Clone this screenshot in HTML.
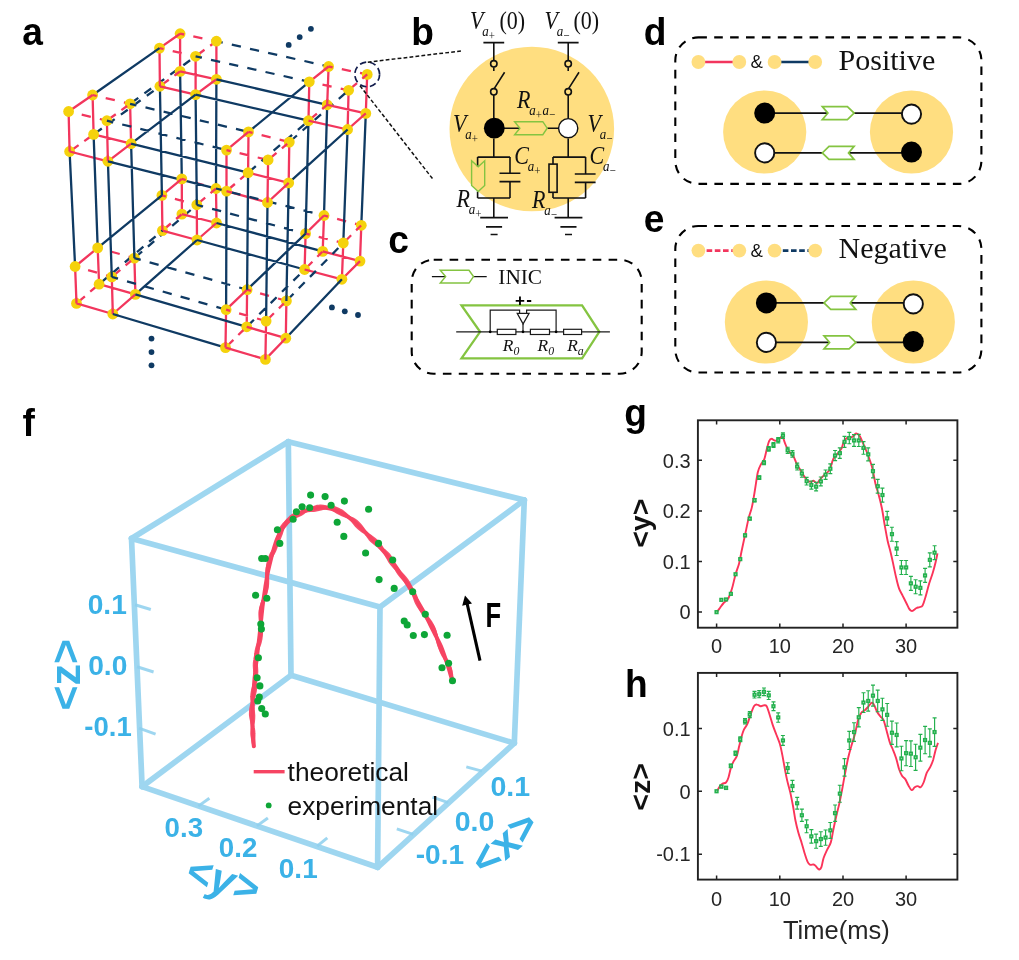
<!DOCTYPE html>
<html><head><meta charset="utf-8"><title>figure</title>
<style>
html,body{margin:0;padding:0;background:#fff;}
body{width:1019px;height:960px;overflow:hidden;font-family:"Liberation Sans",sans-serif;}
svg{display:block;position:absolute;left:0;top:0;will-change:transform;}
text{font-family:"Liberation Sans",sans-serif;}
.ser{font-family:"Liberation Serif",serif;}
</style></head><body>
<svg width="1019" height="960" viewBox="0 0 1019 960">
<rect width="1019" height="960" fill="#fff"/>
<!-- a -->
<g stroke-width="2.3" fill="none">
<path stroke="#f2365d" d="M68.6 111.5L72.7 112.5 M81.7 114.7L90.8 116.8 M99.8 119.0L106.9 120.7 M68.6 111.5L92.6 95.0 M68.6 111.5L69.6 151.5 M92.6 95.0L96.7 96.0 M105.7 98.1L114.8 100.2 M123.9 102.3L130.1 103.8 M92.6 95.0L93.6 134.4 M130.1 103.8L131.1 143.7 M110.1 118.3L115.8 114.2 M121.4 110.1L127.1 106.0 M106.9 120.7L107.9 161.3 M69.6 151.5L107.9 161.3 M72.9 149.2L78.6 145.1 M84.3 141.1L90.0 137.0 M93.6 134.4L131.1 143.7 M107.9 161.3L131.1 143.7 M159.5 48.1L163.6 49.0 M172.7 51.1L181.7 53.2 M190.8 55.2L195.6 56.3 M159.5 48.1L180.1 33.7 M159.5 48.1L159.9 86.3 M180.1 33.7L184.2 34.5 M193.3 36.4L202.4 38.3 M211.5 40.2L216.4 41.2 M180.1 33.7L180.1 71.4 M216.4 41.2L216.4 79.3 M198.8 54.0L204.5 49.8 M210.2 45.7L215.8 41.6 M195.6 56.3L195.6 94.6 M159.9 86.3L195.6 94.6 M163.1 83.9L168.8 79.8 M174.4 75.6L180.0 71.5 M180.1 71.4L216.4 79.3 M195.6 94.6L216.4 79.3 M309.3 81.8L313.4 82.7 M322.5 84.7L331.6 86.6 M340.7 88.6L348.6 90.3 M309.3 81.8L328.6 66.5 M309.3 81.8L308.5 120.7 M328.6 66.5L332.7 67.3 M341.8 69.2L350.9 71.1 M360.0 72.9L367.2 74.4 M328.6 66.5L327.2 104.8 M367.2 74.4L365.8 113.4 M351.6 87.7L357.0 83.2 M362.3 78.6L367.2 74.4 M348.6 90.3L347.6 129.5 M308.5 120.7L347.6 129.5 M311.5 118.1L316.9 113.6 M322.2 109.0L327.2 104.8 M327.2 104.8L365.8 113.4 M347.6 129.5L365.8 113.4 M226.5 150.1L230.6 151.1 M239.6 153.2L248.7 155.3 M257.7 157.5L266.8 159.6 M226.5 150.1L248.5 131.9 M226.5 150.1L226.5 191.1 M248.5 131.9L252.6 132.9 M261.6 135.2L270.6 137.4 M279.6 139.7L288.7 141.9 M248.5 131.9L248.1 172.7 M289.3 142.1L288.7 182.9 M271.2 157.3L276.5 152.8 M281.9 148.3L287.2 143.8 M268.1 159.9L267.5 202.5 M226.5 191.1L267.5 202.5 M229.5 188.5L234.9 184.0 M240.2 179.4L245.5 174.9 M248.1 172.7L288.7 182.9 M267.5 202.5L288.7 182.9 M75.1 266.5L79.1 267.6 M88.1 270.2L97.0 272.7 M106.0 275.3L111.8 276.9 M75.1 266.5L97.7 247.9 M75.1 266.5L76.5 303.4 M97.7 247.9L101.7 249.0 M110.7 251.5L119.7 254.0 M128.6 256.5L134.4 258.1 M97.7 247.9L99.1 284.2 M134.4 258.1L135.4 294.4 M114.9 274.3L120.3 269.9 M125.6 265.4L131.0 260.9 M111.8 276.9L112.8 314.0 M76.5 303.4L112.8 314.0 M79.5 300.8L84.9 296.3 M90.2 291.7L95.6 287.2 M99.1 284.2L135.4 294.4 M112.8 314.0L135.4 294.4 M161.9 195.4L166.0 196.5 M174.9 198.9L183.9 201.3 M192.9 203.7L196.8 204.8 M161.9 195.4L181.8 178.9 M161.9 195.4L162.4 230.6 M181.8 178.9L185.8 180.0 M194.8 182.5L203.8 185.1 M212.7 187.6L216.0 188.5 M181.8 178.9L181.9 214.1 M216.0 188.5L216.5 223.0 M199.8 202.2L205.2 197.7 M210.5 193.2L215.9 188.6 M196.8 204.8L197.0 240.0 M162.4 230.6L197.0 240.0 M165.5 228.0L170.8 223.5 M176.1 219.0L181.5 214.5 M181.9 214.1L216.5 223.0 M197.0 240.0L216.5 223.0 M305.6 233.6L309.7 234.6 M318.7 236.9L327.7 239.1 M336.7 241.4L343.3 243.0 M305.6 233.6L324.0 215.5 M305.6 233.6L304.6 269.5 M324.0 215.5L328.1 216.6 M337.1 218.9L346.1 221.3 M355.0 223.7L361.3 225.3 M324.0 215.5L322.7 251.4 M361.3 225.3L360.0 261.1 M346.2 240.2L351.1 235.3 M356.1 230.4L361.1 225.5 M343.3 243.0L341.9 279.3 M304.6 269.5L341.9 279.3 M307.4 266.7L312.4 261.7 M317.3 256.8L322.3 251.8 M322.7 251.4L360.0 261.1 M341.9 279.3L360.0 261.1 M226.1 309.7L230.1 310.9 M239.1 313.4L248.0 315.9 M257.0 318.5L265.9 321.0 M226.1 309.7L247.1 289.7 M226.1 309.7L225.5 347.6 M247.1 289.7L251.1 290.9 M260.1 293.4L269.0 295.9 M278.0 298.5L286.4 300.9 M247.1 289.7L246.7 326.8 M286.4 300.9L285.8 338.2 M268.9 318.3L273.9 313.3 M278.9 308.4L283.8 303.5 M266.1 321.1L265.4 359.4 M225.5 347.6L265.4 359.4 M228.4 344.8L233.4 339.9 M238.3 335.0L243.3 330.1 M246.7 326.8L285.8 338.2 M265.4 359.4L285.8 338.2"/>
<path stroke="#0f3a63" d="M92.6 95.0L159.5 48.1 M130.1 103.8L136.4 105.3 M145.5 107.4L154.5 109.6 M163.6 111.7L172.6 113.9 M181.7 116.0L190.7 118.2 M199.8 120.3L208.8 122.5 M217.9 124.6L226.9 126.8 M236.0 128.9L245.0 131.1 M131.5 102.8L138.3 97.9 M144.4 93.4L151.2 88.5 M157.4 84.0L164.2 79.1 M170.3 74.6L177.1 69.7 M183.3 65.2L190.1 60.3 M106.9 120.7L113.2 122.3 M122.2 124.5L131.3 126.7 M140.3 128.9L149.3 131.1 M158.4 133.4L167.4 135.6 M176.4 137.8L185.5 140.0 M194.5 142.2L203.5 144.5 M212.6 146.7L221.6 148.9 M69.6 151.5L75.1 266.5 M95.0 133.4L101.8 128.5 M107.9 124.0L114.7 119.1 M120.9 114.6L127.7 109.7 M133.8 105.2L140.6 100.3 M146.8 95.8L153.6 90.9 M159.7 86.4L159.9 86.3 M93.6 134.4L97.7 247.9 M131.1 143.7L248.1 172.7 M131.1 143.7L195.6 94.6 M131.1 143.7L134.4 258.1 M107.9 161.3L226.5 191.1 M107.9 161.3L111.8 276.9 M216.4 41.2L222.7 42.6 M231.8 44.7L240.9 46.7 M250.0 48.8L259.0 50.8 M268.1 52.9L277.2 54.9 M286.2 56.9L295.3 59.0 M304.4 61.0L313.5 63.1 M322.5 65.1L328.6 66.5 M195.6 56.3L201.9 57.7 M211.0 59.8L220.1 61.8 M229.2 63.8L238.2 65.9 M247.3 67.9L256.4 69.9 M265.5 72.0L274.5 74.0 M283.6 76.0L292.7 78.1 M301.8 80.1L309.3 81.8 M159.9 86.3L161.9 195.4 M180.1 71.4L181.8 178.9 M216.4 79.3L327.2 104.8 M216.4 79.3L216.0 188.5 M195.6 94.6L308.5 120.7 M195.6 94.6L196.8 204.8 M308.5 120.7L305.6 233.6 M327.2 104.8L324.0 215.5 M365.8 113.4L361.3 225.3 M347.6 129.5L343.3 243.0 M248.5 131.9L309.3 81.8 M290.6 141.0L296.9 135.5 M302.6 130.5L309.0 124.9 M314.7 119.9L321.0 114.4 M326.7 109.4L333.1 103.9 M338.8 98.9L345.1 93.4 M226.5 191.1L226.1 309.7 M249.4 171.6L255.8 166.1 M261.5 161.2L267.9 155.7 M273.6 150.7L280.0 145.2 M285.8 140.3L292.1 134.8 M297.9 129.8L304.3 124.4 M248.1 172.7L247.1 289.7 M288.7 182.9L347.6 129.5 M288.7 182.9L286.4 300.9 M267.5 202.5L266.1 321.1 M97.7 247.9L161.9 195.4 M134.4 258.1L140.7 259.9 M149.6 262.4L158.6 264.9 M167.5 267.4L176.5 269.9 M185.4 272.4L194.4 274.9 M203.3 277.4L212.3 279.9 M221.3 282.5L230.2 285.0 M239.2 287.5L247.1 289.7 M135.7 257.0L142.1 251.5 M147.9 246.6L154.2 241.1 M160.0 236.2L166.4 230.8 M172.2 225.8L178.6 220.4 M184.4 215.4L190.7 210.0 M196.5 205.0L196.8 204.8 M111.8 276.9L118.0 278.7 M127.0 281.3L135.9 283.8 M144.9 286.4L153.8 289.0 M162.7 291.5L171.7 294.1 M180.6 296.6L189.6 299.2 M198.5 301.8L207.4 304.3 M216.4 306.9L225.3 309.5 M100.4 283.1L106.8 277.7 M112.6 272.8L119.0 267.3 M124.8 262.4L131.2 257.0 M137.0 252.1L143.4 246.7 M149.2 241.7L155.6 236.3 M161.4 231.4L162.4 230.6 M135.4 294.4L246.7 326.8 M135.4 294.4L197.0 240.0 M112.8 314.0L225.5 347.6 M216.0 188.5L222.3 190.1 M231.3 192.3L240.4 194.6 M249.4 196.8L258.4 199.1 M267.4 201.4L276.4 203.6 M285.5 205.9L294.5 208.1 M303.5 210.4L312.5 212.6 M321.6 214.9L324.0 215.5 M196.8 204.8L203.1 206.5 M212.1 208.8L221.1 211.2 M230.1 213.6L239.0 216.0 M248.0 218.4L257.0 220.7 M266.0 223.1L275.0 225.5 M284.0 227.9L293.0 230.3 M302.0 232.6L305.6 233.6 M216.5 223.0L322.7 251.4 M197.0 240.0L304.6 269.5 M247.1 289.7L305.6 233.6 M287.6 299.7L293.5 293.7 M298.8 288.3L304.7 282.3 M310.0 276.9L315.9 270.9 M321.2 265.5L327.1 259.5 M332.5 254.0L338.3 248.0 M247.9 325.6L253.9 319.7 M259.3 314.3L265.3 308.4 M270.7 303.1L276.6 297.2 M282.0 291.8L288.0 285.9 M293.4 280.6L299.4 274.7 M285.8 338.2L341.9 279.3"/>
</g>
<g fill="#f5d20c">
<circle cx="68.6" cy="111.5" r="5.4"/>
<circle cx="92.6" cy="95.0" r="5.4"/>
<circle cx="130.1" cy="103.8" r="5.4"/>
<circle cx="106.9" cy="120.7" r="5.4"/>
<circle cx="69.6" cy="151.5" r="5.4"/>
<circle cx="93.6" cy="134.4" r="5.4"/>
<circle cx="131.1" cy="143.7" r="5.4"/>
<circle cx="107.9" cy="161.3" r="5.4"/>
<circle cx="159.5" cy="48.1" r="5.4"/>
<circle cx="180.1" cy="33.7" r="5.4"/>
<circle cx="216.4" cy="41.2" r="5.4"/>
<circle cx="195.6" cy="56.3" r="5.4"/>
<circle cx="159.9" cy="86.3" r="5.4"/>
<circle cx="180.1" cy="71.4" r="5.4"/>
<circle cx="216.4" cy="79.3" r="5.4"/>
<circle cx="195.6" cy="94.6" r="5.4"/>
<circle cx="309.3" cy="81.8" r="5.4"/>
<circle cx="328.6" cy="66.5" r="5.4"/>
<circle cx="367.2" cy="74.4" r="5.4"/>
<circle cx="348.6" cy="90.3" r="5.4"/>
<circle cx="308.5" cy="120.7" r="5.4"/>
<circle cx="327.2" cy="104.8" r="5.4"/>
<circle cx="365.8" cy="113.4" r="5.4"/>
<circle cx="347.6" cy="129.5" r="5.4"/>
<circle cx="226.5" cy="150.1" r="5.4"/>
<circle cx="248.5" cy="131.9" r="5.4"/>
<circle cx="289.3" cy="142.1" r="5.4"/>
<circle cx="268.1" cy="159.9" r="5.4"/>
<circle cx="226.5" cy="191.1" r="5.4"/>
<circle cx="248.1" cy="172.7" r="5.4"/>
<circle cx="288.7" cy="182.9" r="5.4"/>
<circle cx="267.5" cy="202.5" r="5.4"/>
<circle cx="75.1" cy="266.5" r="5.4"/>
<circle cx="97.7" cy="247.9" r="5.4"/>
<circle cx="134.4" cy="258.1" r="5.4"/>
<circle cx="111.8" cy="276.9" r="5.4"/>
<circle cx="76.5" cy="303.4" r="5.4"/>
<circle cx="99.1" cy="284.2" r="5.4"/>
<circle cx="135.4" cy="294.4" r="5.4"/>
<circle cx="112.8" cy="314.0" r="5.4"/>
<circle cx="161.9" cy="195.4" r="5.4"/>
<circle cx="181.8" cy="178.9" r="5.4"/>
<circle cx="216.0" cy="188.5" r="5.4"/>
<circle cx="196.8" cy="204.8" r="5.4"/>
<circle cx="162.4" cy="230.6" r="5.4"/>
<circle cx="181.9" cy="214.1" r="5.4"/>
<circle cx="216.5" cy="223.0" r="5.4"/>
<circle cx="197.0" cy="240.0" r="5.4"/>
<circle cx="305.6" cy="233.6" r="5.4"/>
<circle cx="324.0" cy="215.5" r="5.4"/>
<circle cx="361.3" cy="225.3" r="5.4"/>
<circle cx="343.3" cy="243.0" r="5.4"/>
<circle cx="304.6" cy="269.5" r="5.4"/>
<circle cx="322.7" cy="251.4" r="5.4"/>
<circle cx="360.0" cy="261.1" r="5.4"/>
<circle cx="341.9" cy="279.3" r="5.4"/>
<circle cx="226.1" cy="309.7" r="5.4"/>
<circle cx="247.1" cy="289.7" r="5.4"/>
<circle cx="286.4" cy="300.9" r="5.4"/>
<circle cx="266.1" cy="321.1" r="5.4"/>
<circle cx="225.5" cy="347.6" r="5.4"/>
<circle cx="246.7" cy="326.8" r="5.4"/>
<circle cx="285.8" cy="338.2" r="5.4"/>
<circle cx="265.4" cy="359.4" r="5.4"/>
</g>
<g stroke-width="2.3" fill="none">
<path stroke="#f2365d" d="M87.9 98.2L92.6 95.0 M69.5 145.8L69.6 151.5 M92.6 95.0L96.7 96.0 M125.5 107.2L127.1 106.0 M107.8 155.6L107.9 161.3 M69.6 151.5L75.1 152.9 M126.6 147.1L131.1 143.7 M159.5 48.1L163.6 49.0 M175.4 37.0L180.1 33.7 M159.8 80.6L159.9 86.3 M180.1 33.7L184.2 34.5 M159.9 86.3L165.5 87.6 M175.5 74.8L180.0 71.5 M180.1 71.4L185.7 72.6 M211.8 82.7L216.4 79.3 M324.1 70.0L328.6 66.5 M328.6 66.5L332.7 67.3 M327.4 99.1L327.2 104.8 M362.9 78.1L367.2 74.4 M308.5 120.7L314.1 122.0 M322.9 108.5L327.2 104.8 M327.2 104.8L332.8 106.0 M361.5 117.2L365.8 113.4 M226.5 150.1L230.6 151.1 M244.1 135.5L248.5 131.9 M248.5 131.9L252.6 132.9 M284.9 145.8L287.2 143.8 M267.6 196.8L267.5 202.5 M226.5 191.1L232.0 192.6 M284.5 186.8L288.7 182.9 M76.3 297.7L76.5 303.4 M130.0 261.7L131.0 260.9 M112.6 308.3L112.8 314.0 M76.5 303.4L82.0 305.0 M131.1 298.1L135.4 294.4 M161.9 195.4L166.0 196.5 M177.4 182.5L181.8 178.9 M162.3 224.9L162.4 230.6 M181.8 178.9L185.8 180.0 M211.7 192.2L215.9 188.6 M162.4 230.6L167.9 232.1 M177.5 217.8L181.5 214.5 M181.9 214.1L187.4 215.5 M212.2 226.7L216.5 223.0 M305.6 233.6L309.7 234.6 M319.9 219.5L324.0 215.5 M324.0 215.5L328.1 216.6 M357.2 229.3L361.1 225.5 M304.6 269.5L310.1 270.9 M318.7 255.4L322.3 251.8 M322.7 251.4L328.2 252.8 M356.0 265.1L360.0 261.1 M226.1 309.7L230.1 310.9 M243.0 293.6L247.1 289.7 M225.6 341.9L225.5 347.6 M247.1 289.7L251.1 290.9 M282.4 304.9L283.8 303.5 M265.5 353.7L265.4 359.4 M225.5 347.6L231.0 349.2 M242.6 330.8L243.3 330.1 M246.7 326.8L252.2 328.4 M281.8 342.3L285.8 338.2"/>
<path stroke="#0f3a63" d="M154.8 51.4L159.5 48.1 M130.1 103.8L135.6 105.1 M106.9 120.7L112.4 122.1 M159.7 86.4L159.9 86.3 M131.1 143.7L136.6 145.1 M191.1 98.1L195.6 94.6 M134.2 252.4L134.4 258.1 M107.9 161.3L113.4 162.7 M111.6 271.2L111.8 276.9 M195.6 56.3L201.2 57.5 M161.8 189.7L161.9 195.4 M216.4 79.3L222.0 80.6 M195.6 94.6L201.2 95.9 M196.7 199.1L196.8 204.8 M305.7 227.9L305.6 233.6 M344.3 94.0L345.1 93.4 M304.2 124.4L304.3 124.4 M247.1 284.0L247.1 289.7 M343.4 133.3L347.6 129.5 M286.5 295.2L286.4 300.9 M157.5 199.0L161.9 195.4 M134.4 258.1L139.9 259.6 M196.5 205.0L196.8 204.8 M111.8 276.9L117.3 278.5 M161.4 231.4L162.4 230.6 M135.4 294.4L140.9 296.0 M192.7 243.8L197.0 240.0 M112.8 314.0L118.3 315.6 M216.0 188.5L221.5 189.9 M196.8 204.8L202.3 206.3 M216.5 223.0L222.0 224.5 M197.0 240.0L202.5 241.5 M301.5 237.5L305.6 233.6 M338.0 283.4L341.9 279.3"/>
</g>
<g fill="#0f3a63">
<circle cx="288.7" cy="44.9" r="2.9"/>
<circle cx="299.7" cy="37.1" r="2.9"/>
<circle cx="310.9" cy="28.8" r="2.9"/>
<circle cx="151.5" cy="338.6" r="2.9"/>
<circle cx="151.5" cy="352.1" r="2.9"/>
<circle cx="151.5" cy="365.3" r="2.9"/>
<circle cx="331.9" cy="307.4" r="2.9"/>
<circle cx="344.8" cy="311.3" r="2.9"/>
<circle cx="358.0" cy="315.0" r="2.9"/>
</g>
<circle cx="367.2" cy="74.4" r="12.4" fill="none" stroke="#121c4d" stroke-width="1.7" stroke-dasharray="6.5 3.6"/>
<!-- b -->
<circle cx="531.8" cy="129" r="82.3" fill="#ffde80"/>
<path d="M367.8 62.2L462.5 50.8 M360 85.7L433.4 179.8" stroke="#111" stroke-width="1.5" stroke-dasharray="3.8 2.2" fill="none"/>
<g stroke="#111" stroke-width="1.6" fill="none" stroke-linecap="butt">
<path d="M483.4 42.6H504.2 M493.8 42.6V60.4 M493.8 67.2V71 M494.2 88.6L504.6 72.2 M493.8 95.1V118.5 M493.8 138.4V157.1 M493.8 198V217.6"/>
<circle cx="493.8" cy="63.8" r="3.2" fill="none"/>
<circle cx="493.8" cy="91.8" r="3.2" fill="none"/>
<path d="M480.2 217.6H508.0 M486.0 226.9H502.1 M490.6 234.5H497.6"/>
<path d="M557.8 42.6H578.6 M568.2 42.6V60.4 M568.2 67.2V71 M568.6 88.6L579.0 72.2 M568.2 95.1V118.5 M568.2 138.4V157.1 M568.2 198V217.6"/>
<circle cx="568.2" cy="63.8" r="3.2" fill="none"/>
<circle cx="568.2" cy="91.8" r="3.2" fill="none"/>
<path d="M554.6 217.6H582.4 M560.4 226.9H576.5 M565.0 234.5H572.0"/>
<path d="M477.6 157.1H510 M477.6 157.1V166.5 M477.6 191.5V198 M477.6 198H510 M510 157.1V173.3 M510 181.6V198 M499.5 173.3H520.4 M499.5 181.6H520.4"/>
<path d="M553 157.1H585.6 M553 157.1V198 M553 198H585.6 M585.6 157.1V174 M585.6 182.4V198 M574.8 174H595.6 M574.8 182.4H595.6"/>
<rect x="549" y="164.1" width="8.1" height="28.2" fill="#ffde80"/>
<path d="M504 128.2H520 M547.2 128.2H559"/>
</g>
<circle cx="494.3" cy="128.2" r="10.4" fill="#000"/>
<circle cx="568.2" cy="128.2" r="9.6" fill="#fff" stroke="#111" stroke-width="1.4"/>
<g stroke="#84c441" stroke-width="1.4" fill="none" stroke-linejoin="miter">
<path d="M514.6 121.7H542.8L547.2 128.2L542.8 134.7H514.6L519.9 128.2Z"/>
<path d="M471.6 160.8L478.2 166.8L484.7 160.8V185.5L478.2 191.5L471.6 185.5Z"/>
</g>
<g fill="#111">
<text transform="translate(470.0,28.8) scale(1,1.15)" class="ser" font-style="italic" font-size="22" text-anchor="start">V<tspan dy="6.2" dx="-1.2" font-size="13.0">a</tspan><tspan dy="3.4" font-size="11.0" font-style="normal">+</tspan></text>
<text transform="translate(499.5,28.8) scale(1,1.15)" class="ser" font-size="22">(0)</text>
<text transform="translate(544.5,28.8) scale(1,1.15)" class="ser" font-style="italic" font-size="22" text-anchor="start">V<tspan dy="6.2" dx="-1.2" font-size="13.0">a</tspan><tspan dy="3.4" font-size="11.0" font-style="normal">−</tspan></text>
<text transform="translate(573.5,28.8) scale(1,1.15)" class="ser" font-size="22">(0)</text>
<text transform="translate(517.0,108.0) scale(1,1.15)" class="ser" font-style="italic" font-size="22" text-anchor="start">R<tspan dy="6.2" dx="-1.2" font-size="13.0">a</tspan><tspan dy="3.4" font-size="11.0" font-style="normal">+</tspan><tspan dy="-3.4" dx="0.5" font-size="13.0">a</tspan><tspan dy="3.4" font-size="11.0" font-style="normal">−</tspan></text>
<text transform="translate(453.0,131.6) scale(1,1.15)" class="ser" font-style="italic" font-size="22" text-anchor="start">V<tspan dy="6.2" dx="-1.2" font-size="13.0">a</tspan><tspan dy="3.4" font-size="11.0" font-style="normal">+</tspan></text>
<text transform="translate(587.5,131.6) scale(1,1.15)" class="ser" font-style="italic" font-size="22" text-anchor="start">V<tspan dy="6.2" dx="-1.2" font-size="13.0">a</tspan><tspan dy="3.4" font-size="11.0" font-style="normal">−</tspan></text>
<text transform="translate(514.3,164.0) scale(1,1.15)" class="ser" font-style="italic" font-size="22" text-anchor="start">C<tspan dy="6.2" dx="-1.2" font-size="13.0">a</tspan><tspan dy="3.4" font-size="11.0" font-style="normal">+</tspan></text>
<text transform="translate(589.5,164.0) scale(1,1.15)" class="ser" font-style="italic" font-size="22" text-anchor="start">C<tspan dy="6.2" dx="-1.2" font-size="13.0">a</tspan><tspan dy="3.4" font-size="11.0" font-style="normal">−</tspan></text>
<text transform="translate(456.5,207.0) scale(1,1.15)" class="ser" font-style="italic" font-size="22" text-anchor="start">R<tspan dy="6.2" dx="-1.2" font-size="13.0">a</tspan><tspan dy="3.4" font-size="11.0" font-style="normal">+</tspan></text>
<text transform="translate(532.0,208.3) scale(1,1.15)" class="ser" font-style="italic" font-size="22" text-anchor="start">R<tspan dy="6.2" dx="-1.2" font-size="13.0">a</tspan><tspan dy="3.4" font-size="11.0" font-style="normal">−</tspan></text>
</g>
<!-- c -->
<rect x="411.7" y="259.7" width="230" height="114" rx="22" ry="22" fill="none" stroke="#000" stroke-width="2.1" stroke-dasharray="8.6 7.3"/>
<path d="M431.9 276.6H445.6 M473.5 276.6H486.7" stroke="#111" stroke-width="1.3" fill="none"/>
<path d="M440.3 270.3H469L473.5 276.6L469 283.1H440.3L445.6 276.6Z" stroke="#84c441" stroke-width="1.5" fill="none"/>
<text x="498.3" y="283.6" class="ser" font-size="21.3" fill="#111">INIC</text>
<path d="M461.5 305.3H582.1L599.3 331.8L582.1 358.3H461.5L480.1 331.8Z" stroke="#84c441" stroke-width="2.3" fill="none" stroke-linejoin="miter"/>
<g stroke="#1a1a1a" stroke-width="1.2" fill="none">
<path d="M456.2 331.8H609.9"/>
<path d="M490.2 331.8V310.1H519.6V313.3 M556.1 331.8V310.1H526.6V313.3 M523 323.9V331.8"/>
<path d="M517.2 313.3H529.1L523.1 323.9Z"/>
<rect x="497.3" y="329.3" width="18.6" height="5.2" fill="#fff"/>
<rect x="530.4" y="329.3" width="19.1" height="5.2" fill="#fff"/>
<rect x="563.6" y="329.3" width="18.0" height="5.2" fill="#fff"/>
</g>
<circle cx="490.2" cy="331.8" r="1.4" fill="#000"/>
<circle cx="523.0" cy="331.8" r="1.4" fill="#000"/>
<circle cx="556.1" cy="331.8" r="1.4" fill="#000"/>
<text x="514.9" y="305.8" font-size="17" font-weight="bold" fill="#000">+</text>
<text x="526.3" y="305.2" font-size="17" font-weight="bold" fill="#000">-</text>
<text x="502.8" y="351.2" class="ser" font-style="italic" font-size="17.4" fill="#111">R<tspan dy="4" font-size="11.8">0</tspan></text>
<text x="537.6" y="351.2" class="ser" font-style="italic" font-size="17.4" fill="#111">R<tspan dy="4" font-size="11.8">0</tspan></text>
<text x="567.2" y="351.2" class="ser" font-style="italic" font-size="17.4" fill="#111">R<tspan dy="4" font-size="11.8">a</tspan></text>
<!-- de -->
<rect x="675.3" y="37.4" width="306.1" height="146.5" rx="23" ry="23" fill="none" stroke="#000" stroke-width="2.1" stroke-dasharray="8.6 7.3"/>
<path d="M698.4 62.0H739.3" stroke="#f2365d" stroke-width="2.6"/>
<path d="M774.6 62.0H815.2" stroke="#0f3a63" stroke-width="2.6"/>
<circle cx="698.4" cy="62.0" r="6.9" fill="#ffde80"/>
<circle cx="739.3" cy="62.0" r="6.9" fill="#ffde80"/>
<circle cx="774.6" cy="62.0" r="6.9" fill="#ffde80"/>
<circle cx="815.2" cy="62.0" r="6.9" fill="#ffde80"/>
<text x="756.6" y="68.2" font-size="18.5" text-anchor="middle" fill="#111">&amp;</text>
<text x="838.6" y="70.2" class="ser" font-size="30" fill="#111">Positive</text>
<circle cx="764.7" cy="132.0" r="41.6" fill="#ffde80"/>
<circle cx="911.5" cy="132.0" r="41.6" fill="#ffde80"/>
<path d="M764.7 113.1H911.5 M764.7 152.9H911.5" stroke="#111" stroke-width="1.8"/>
<circle cx="764.7" cy="113.1" r="10.5" fill="#000"/>
<circle cx="764.7" cy="152.9" r="9.6" fill="#fff" stroke="#111" stroke-width="1.9"/>
<circle cx="911.5" cy="114.1" r="9.6" fill="#fff" stroke="#111" stroke-width="1.9"/>
<circle cx="911.5" cy="152.1" r="10.5" fill="#000"/>
<path d="M822.3 106.6H847.4L854.1 113.1L847.4 119.6H822.3L827.9 113.1Z M854.1 146.4H829.0L822.3 152.9L829.0 159.4H854.1L848.5 152.9Z" fill="#fff" stroke="#84c441" stroke-width="1.7"/>
<rect x="675.3" y="226.0" width="306.1" height="146.5" rx="23" ry="23" fill="none" stroke="#000" stroke-width="2.1" stroke-dasharray="8.6 7.3"/>
<path d="M698.4 250.6H739.3" stroke="#f2365d" stroke-width="2.6" stroke-dasharray="5.6 2.6"/>
<path d="M774.6 250.6H815.2" stroke="#0f3a63" stroke-width="2.6" stroke-dasharray="5.6 2.6"/>
<circle cx="698.4" cy="250.6" r="6.9" fill="#ffde80"/>
<circle cx="739.3" cy="250.6" r="6.9" fill="#ffde80"/>
<circle cx="774.6" cy="250.6" r="6.9" fill="#ffde80"/>
<circle cx="815.2" cy="250.6" r="6.9" fill="#ffde80"/>
<text x="756.6" y="256.8" font-size="18.5" text-anchor="middle" fill="#111">&amp;</text>
<text x="838.6" y="257.8" class="ser" font-size="30" fill="#111">Negative</text>
<circle cx="766.4" cy="322.0" r="41.6" fill="#ffde80"/>
<circle cx="913.3" cy="322.0" r="41.6" fill="#ffde80"/>
<path d="M766.4 302.9H913.3 M766.4 342.4H913.3" stroke="#111" stroke-width="1.8"/>
<circle cx="766.4" cy="302.9" r="10.5" fill="#000"/>
<circle cx="766.4" cy="342.4" r="9.6" fill="#fff" stroke="#111" stroke-width="1.9"/>
<circle cx="913.3" cy="303.9" r="9.6" fill="#fff" stroke="#111" stroke-width="1.9"/>
<circle cx="913.3" cy="341.6" r="10.5" fill="#000"/>
<path d="M855.8 296.4H830.7L824.0 302.9L830.7 309.4H855.8L850.2 302.9Z M824.0 335.9H849.1L855.8 342.4L849.1 348.9H824.0L829.6 342.4Z" fill="#fff" stroke="#84c441" stroke-width="1.7"/>
<!-- f -->
<g stroke="#8fd0ee" stroke-width="5.7" stroke-linecap="round" opacity="0.86" fill="none">
<path d="M288.3 441.7L524.3 500.0"/>
<path d="M524.3 500.0L380.0 607.0"/>
<path d="M380.0 607.0L131.5 538.5"/>
<path d="M131.5 538.5L288.3 441.7"/>
<path d="M131.5 538.5L142.1 786.6"/>
<path d="M380.0 607.0L377.6 867.3"/>
<path d="M524.3 500.0L514.3 743.2"/>
<path d="M288.3 441.7L291.0 675.3"/>
<path d="M142.1 786.6L377.6 867.3"/>
<path d="M377.6 867.3L514.3 743.2"/>
<path d="M514.3 743.2L291.0 675.3"/>
<path d="M291.0 675.3L142.1 786.6"/>
</g>
<g stroke="#8fd0ee" stroke-width="3.0" stroke-linecap="butt" fill="none" opacity="0.86">
<path d="M135.0 604.7L150.8 609.5"/>
<path d="M137.0 666.8L153.6 672.0"/>
<path d="M138.9 728.2L155.6 734.1"/>
<path d="M198.3 806.1L209.4 798.2"/>
<path d="M256.9 825.9L267.9 818.0"/>
<path d="M317.1 846.1L327.3 837.8"/>
<path d="M482.0 771.1L466.3 766.9"/>
<path d="M448.2 802.7L432.5 797.2"/>
<path d="M413.3 834.3L396.8 828.8"/>
</g>
<g fill="#3bb2e7" font-weight="bold" font-size="27">
<text x="87.7" y="613.9" textLength="39.2" lengthAdjust="spacingAndGlyphs">0.1</text>
<text x="88.2" y="674.9" textLength="39.2" lengthAdjust="spacingAndGlyphs">0.0</text>
<text x="84.3" y="736.4" textLength="47.5" lengthAdjust="spacingAndGlyphs">-0.1</text>
<text x="164.6" y="836.5" textLength="38.5" lengthAdjust="spacingAndGlyphs">0.3</text>
<text x="218.8" y="857.1" textLength="38.5" lengthAdjust="spacingAndGlyphs">0.2</text>
<text x="278.8" y="877.9" textLength="38.9" lengthAdjust="spacingAndGlyphs">0.1</text>
<text x="490.4" y="796.0" textLength="39.7" lengthAdjust="spacingAndGlyphs">0.1</text>
<text x="454.7" y="830.9" textLength="39.7" lengthAdjust="spacingAndGlyphs">0.0</text>
<text x="415.7" y="863.9" textLength="48.4" lengthAdjust="spacingAndGlyphs">-0.1</text>
</g>
<g fill="#3bb2e7" font-weight="bold" font-size="43" text-anchor="middle">
<text transform="translate(80.2,674.7) rotate(-90)">&lt;z&gt;</text>
<text transform="translate(218.5,893.5) rotate(17)" font-style="italic">&lt;y&gt;</text>
<text transform="translate(514,853.5) rotate(-41)">&lt;x&gt;</text>
</g>
<path d="M253.8 746.3C253.6 744.3 253.0 738.1 252.7 734.0C252.5 729.9 252.2 725.8 252.2 721.6C252.1 717.5 252.4 713.4 252.6 709.3C252.8 705.2 253.1 701.1 253.3 697.0C253.6 692.9 253.7 688.7 254.0 684.6C254.3 680.5 254.7 676.4 255.2 672.3C255.6 668.2 256.1 664.1 256.6 660.1C257.1 656.0 257.6 651.9 258.0 647.8C258.5 643.7 259.0 639.6 259.5 635.5C259.9 631.4 260.4 627.3 260.8 623.2C261.3 619.1 261.6 615.0 262.1 610.9C262.5 606.8 263.1 602.7 263.6 598.7C264.2 594.6 264.8 590.5 265.4 586.4C266.1 582.3 266.7 578.3 267.5 574.2C268.2 570.2 269.2 566.2 270.2 562.2C271.1 558.2 272.2 554.2 273.4 550.2C274.5 546.3 275.6 542.3 277.2 538.5C278.8 534.7 280.7 530.9 283.1 527.6C285.5 524.4 288.3 521.3 291.5 518.8C294.6 516.2 298.1 513.9 301.8 512.1C305.5 510.4 309.4 509.3 313.4 508.5C317.4 507.8 321.7 507.4 325.7 507.7C329.7 508.1 333.7 509.3 337.5 510.9C341.2 512.4 344.8 514.6 348.2 516.9C351.6 519.2 354.7 521.9 357.7 524.7C360.8 527.4 363.6 530.5 366.5 533.4C369.4 536.3 372.4 539.2 375.2 542.2C378.0 545.1 380.8 548.2 383.5 551.3C386.2 554.4 388.9 557.5 391.4 560.8C394.0 564.0 396.4 567.4 398.7 570.8C401.0 574.2 403.3 577.6 405.5 581.1C407.7 584.6 409.8 588.1 411.9 591.6C414.1 595.2 416.1 598.7 418.2 602.3C420.3 605.9 422.4 609.4 424.4 613.0C426.3 616.6 428.1 620.4 429.9 624.1C431.7 627.8 433.6 631.4 435.4 635.1C437.3 638.8 439.3 642.4 441.0 646.2C442.6 650.0 443.8 653.9 445.2 657.8C446.5 661.7 447.7 665.6 449.0 669.5C450.2 673.5 451.9 679.4 452.5 681.4" stroke="#f64462" stroke-width="3.9" fill="none" stroke-linecap="round"/>
<path d="M253.8 746.3C253.8 745.3 253.8 742.2 253.8 740.1C253.8 738.0 254.0 736.0 253.9 733.9C253.9 731.9 253.7 729.8 253.3 727.8C253.0 725.7 252.1 723.7 251.7 721.7C251.2 719.6 250.7 717.5 250.5 715.4C250.4 713.3 250.5 711.2 250.7 709.2C251.0 707.1 251.5 705.1 252.0 703.1C252.5 701.0 253.2 699.0 253.8 697.0C254.3 695.0 254.9 692.9 255.3 690.9C255.6 688.8 255.8 686.8 255.8 684.7C255.9 682.7 255.7 680.7 255.5 678.6C255.3 676.5 255.0 674.4 254.8 672.3C254.6 670.2 254.4 668.1 254.3 666.0C254.3 663.9 254.4 661.9 254.8 659.8C255.1 657.8 255.6 655.8 256.2 653.8C256.8 651.8 257.7 649.8 258.3 647.8C259.0 645.8 259.8 643.8 260.3 641.8C260.8 639.8 261.2 637.8 261.3 635.7C261.5 633.7 261.5 631.6 261.3 629.5C261.2 627.4 260.8 625.3 260.6 623.2C260.4 621.1 260.1 619.0 260.0 616.9C259.9 614.8 259.9 612.8 260.2 610.7C260.5 608.7 261.0 606.6 261.6 604.6C262.2 602.6 263.1 600.7 263.8 598.7C264.5 596.7 265.3 594.7 265.9 592.7C266.5 590.7 267.0 588.8 267.3 586.7C267.6 584.7 267.7 582.6 267.7 580.5C267.7 578.4 267.4 576.3 267.4 574.2C267.3 572.1 267.2 569.9 267.4 567.9C267.6 565.8 267.8 563.7 268.3 561.7C268.8 559.7 269.5 557.7 270.3 555.8C271.1 553.9 272.3 552.1 273.4 550.2C274.4 548.4 275.6 546.6 276.6 544.8C277.5 542.9 278.2 541.1 279.0 539.2C279.7 537.4 280.6 535.6 281.3 533.7C282.0 531.8 282.4 529.6 283.1 527.7C283.9 525.7 284.7 523.5 285.9 521.8C287.1 520.1 288.6 518.7 290.2 517.3C291.8 516.0 293.6 514.6 295.5 513.7C297.5 512.8 299.7 512.6 301.7 512.0C303.8 511.5 305.7 510.8 307.7 510.6C309.7 510.3 311.7 510.6 313.7 510.4C315.7 510.2 317.6 509.6 319.7 509.2C321.7 508.8 323.7 508.3 325.7 507.9C327.8 507.6 330.1 507.1 332.2 507.3C334.2 507.5 336.3 508.3 338.2 509.1C340.1 510.0 342.1 511.1 343.7 512.4C345.4 513.6 346.9 515.2 348.3 516.7C349.8 518.2 351.3 519.6 352.6 521.2C354.0 522.7 355.0 524.5 356.4 526.0C357.8 527.5 359.4 528.9 361.0 530.1C362.6 531.4 364.5 532.5 366.2 533.6C368.0 534.8 369.9 535.8 371.6 537.0C373.3 538.2 375.0 539.4 376.5 540.8C378.0 542.3 379.4 543.9 380.6 545.6C381.8 547.3 382.8 549.2 383.8 551.0C384.9 552.9 385.8 554.8 386.9 556.6C387.9 558.4 388.8 560.2 389.9 561.9C391.1 563.6 392.4 565.2 393.8 566.7C395.2 568.3 396.8 569.6 398.3 571.0C399.9 572.5 401.6 573.8 403.0 575.3C404.5 576.9 405.8 578.5 407.0 580.2C408.2 581.9 409.2 583.7 410.1 585.5C411.0 587.4 411.7 589.4 412.4 591.4C413.1 593.4 413.6 595.4 414.3 597.4C415.0 599.4 415.7 601.4 416.6 603.2C417.6 605.1 418.7 606.8 419.9 608.5C421.1 610.2 422.5 611.7 423.9 613.3C425.2 614.9 426.6 616.5 427.9 618.2C429.2 619.8 430.5 621.5 431.5 623.3C432.6 625.0 433.5 626.9 434.2 628.8C435.0 630.8 435.5 632.8 436.0 634.8C436.6 636.9 436.9 639.0 437.5 641.0C438.0 643.0 438.7 645.0 439.4 646.9C440.0 648.9 440.7 650.6 441.6 652.5C442.4 654.3 443.4 656.2 444.5 658.0C445.5 659.8 446.8 661.6 447.8 663.4C448.8 665.3 449.9 667.1 450.5 669.1C451.2 671.0 451.4 673.1 451.7 675.2C452.1 677.2 452.5 680.3 452.7 681.3" stroke="#f64462" stroke-width="3.1" fill="none" stroke-linecap="round" opacity="0.93"/>
<path d="M253.8 746.3C253.6 745.3 253.0 742.2 252.7 740.2C252.4 738.2 251.9 736.1 251.9 734.1C251.8 732.0 252.2 729.9 252.5 727.8C252.7 725.7 253.3 723.6 253.5 721.6C253.8 719.6 253.8 717.6 253.8 715.6C253.7 713.5 253.5 711.4 253.2 709.4C253.0 707.3 252.4 705.2 252.2 703.1C251.9 701.0 251.6 698.9 251.7 696.9C251.7 694.8 252.0 692.8 252.4 690.7C252.8 688.7 253.5 686.7 254.1 684.6C254.6 682.6 255.4 680.6 255.9 678.6C256.3 676.6 256.7 674.6 256.8 672.5C256.9 670.5 256.7 668.4 256.5 666.3C256.3 664.2 255.9 662.0 255.8 660.0C255.6 657.9 255.5 655.8 255.7 653.7C255.8 651.7 256.3 649.6 256.8 647.6C257.4 645.6 258.2 643.7 258.9 641.7C259.6 639.7 260.4 637.7 260.9 635.7C261.4 633.6 261.7 631.6 261.8 629.5C261.9 627.5 261.6 625.4 261.4 623.3C261.2 621.2 260.7 619.1 260.6 617.0C260.4 614.9 260.2 612.8 260.4 610.7C260.6 608.7 261.1 606.6 261.7 604.6C262.2 602.6 263.2 600.7 263.9 598.7C264.6 596.7 265.4 594.7 265.9 592.7C266.4 590.7 266.8 588.7 267.0 586.7C267.2 584.6 267.0 582.5 266.9 580.4C266.9 578.3 266.5 576.2 266.5 574.1C266.5 572.0 266.7 569.8 267.1 567.8C267.5 565.8 268.3 563.8 269.1 561.9C269.8 560.0 270.9 558.1 271.8 556.2C272.8 554.4 274.0 552.6 274.8 550.7C275.6 548.8 276.3 546.9 276.8 544.8C277.2 542.8 277.2 540.7 277.6 538.7C278.0 536.6 278.5 534.5 279.2 532.5C279.9 530.6 280.5 528.6 281.6 526.8C282.8 525.1 284.3 523.3 286.0 522.0C287.7 520.7 289.8 520.0 291.7 519.0C293.5 518.1 295.3 517.1 297.1 516.2C298.9 515.3 300.8 514.6 302.5 513.5C304.2 512.4 305.6 510.8 307.4 509.7C309.2 508.7 311.3 508.1 313.3 507.5C315.3 506.9 317.4 506.2 319.5 506.1C321.5 505.9 323.7 506.2 325.7 506.7C327.8 507.2 329.8 507.9 331.7 508.8C333.5 509.7 335.1 511.3 336.9 512.3C338.6 513.3 340.3 514.1 342.2 514.9C344.0 515.7 346.1 516.4 348.0 517.2C350.0 517.9 352.3 518.4 354.1 519.5C355.9 520.5 357.5 522.0 358.9 523.5C360.4 525.0 361.6 526.6 362.8 528.3C364.0 530.1 365.0 532.0 366.1 533.8C367.3 535.5 368.4 537.3 369.7 538.9C371.1 540.5 372.6 541.9 374.2 543.2C375.7 544.5 377.5 545.6 379.2 546.8C380.9 548.1 382.8 549.2 384.4 550.5C386.0 551.9 387.6 553.2 388.9 554.8C390.2 556.4 391.2 558.3 392.2 560.2C393.2 562.1 393.8 564.2 394.6 566.1C395.5 568.0 396.4 570.0 397.4 571.7C398.5 573.5 399.7 575.0 401.0 576.6C402.3 578.2 403.8 579.7 405.3 581.2C406.7 582.7 408.4 584.2 409.7 585.8C411.1 587.3 412.4 589.0 413.4 590.8C414.4 592.6 415.1 594.5 415.9 596.5C416.6 598.5 417.0 600.6 417.7 602.6C418.4 604.6 419.0 606.6 419.9 608.4C420.8 610.3 421.9 612.0 423.1 613.7C424.3 615.4 425.7 617.0 427.0 618.6C428.3 620.2 429.8 621.8 431.0 623.5C432.2 625.2 433.3 627.0 434.2 628.8C435.0 630.7 435.6 632.7 436.2 634.7C436.8 636.8 437.1 638.9 437.6 640.9C438.2 643.0 438.8 645.0 439.5 646.9C440.2 648.8 441.0 650.5 441.9 652.4C442.8 654.2 444.0 656.0 445.1 657.8C446.2 659.6 447.4 661.4 448.3 663.2C449.2 665.1 450.0 667.1 450.4 669.1C450.9 671.1 450.9 673.3 451.2 675.3C451.5 677.4 452.2 680.4 452.4 681.4" stroke="#f64462" stroke-width="3.0" fill="none" stroke-linecap="round" opacity="0.93"/>
<g fill="#0ea637">
<circle cx="310.6" cy="495.1" r="3.55"/>
<circle cx="325.1" cy="496.6" r="3.55"/>
<circle cx="344.4" cy="501.1" r="3.55"/>
<circle cx="302.1" cy="506.8" r="3.55"/>
<circle cx="309.7" cy="507.7" r="3.55"/>
<circle cx="331.1" cy="505.3" r="3.55"/>
<circle cx="296.4" cy="511.7" r="3.55"/>
<circle cx="368.6" cy="509.3" r="3.55"/>
<circle cx="293.1" cy="519.2" r="3.55"/>
<circle cx="337.2" cy="522.2" r="3.55"/>
<circle cx="277.4" cy="529.8" r="3.55"/>
<circle cx="343.8" cy="536.4" r="3.55"/>
<circle cx="279.8" cy="543.4" r="3.55"/>
<circle cx="378.5" cy="543.4" r="3.55"/>
<circle cx="365.6" cy="553.0" r="3.55"/>
<circle cx="261.7" cy="558.5" r="3.55"/>
<circle cx="265.3" cy="558.5" r="3.55"/>
<circle cx="392.7" cy="560.0" r="3.55"/>
<circle cx="379.1" cy="579.6" r="3.55"/>
<circle cx="394.2" cy="588.4" r="3.55"/>
<circle cx="412.7" cy="591.7" r="3.55"/>
<circle cx="255.6" cy="595.3" r="3.55"/>
<circle cx="266.8" cy="598.3" r="3.55"/>
<circle cx="425.3" cy="614.3" r="3.55"/>
<circle cx="404.2" cy="621.0" r="3.55"/>
<circle cx="407.2" cy="624.9" r="3.55"/>
<circle cx="260.8" cy="624.0" r="3.55"/>
<circle cx="261.4" cy="629.1" r="3.55"/>
<circle cx="413.3" cy="635.5" r="3.55"/>
<circle cx="424.4" cy="634.6" r="3.55"/>
<circle cx="447.1" cy="635.2" r="3.55"/>
<circle cx="258.4" cy="657.8" r="3.55"/>
<circle cx="448.6" cy="663.3" r="3.55"/>
<circle cx="442.0" cy="667.8" r="3.55"/>
<circle cx="257.1" cy="677.8" r="3.55"/>
<circle cx="259.9" cy="685.9" r="3.55"/>
<circle cx="452.5" cy="680.8" r="3.55"/>
<circle cx="259.3" cy="697.1" r="3.55"/>
<circle cx="257.7" cy="701.0" r="3.55"/>
<circle cx="261.7" cy="708.6" r="3.55"/>
<circle cx="265.3" cy="714.0" r="3.55"/>
<circle cx="268.7" cy="805.4" r="2.9"/>
</g>
<path d="M253.7 771.7H284.6" stroke="#f64462" stroke-width="3.4"/>
<text x="287.6" y="780.7" font-size="26.3" fill="#111">theoretical</text>
<text x="287.6" y="815" font-size="26.3" fill="#111">experimental</text>
<path d="M480 660.7L467.1 603.5" stroke="#000" stroke-width="3.1"/>
<path d="M465.0 595.6L472.0 603.6L462.2 605.8Z" fill="#000"/>
<text transform="translate(487.2,626.8) scale(0.745,1)" x="-2.4" font-size="34.3" font-weight="bold" fill="#000">F</text>
<!-- gh -->
<path d="M716.9 612.1C717.4 611.4 718.8 609.3 720.0 607.8C721.1 606.3 722.2 604.6 723.6 603.0C725.0 601.4 727.0 600.6 728.4 598.2C729.8 595.8 730.8 592.6 732.0 588.6C733.2 584.6 734.4 578.4 735.6 574.2C736.8 570.0 738.1 567.2 739.1 563.4C740.1 559.6 740.5 556.2 741.5 551.5C742.5 546.7 743.9 540.3 745.1 534.7C746.3 529.1 747.6 522.5 748.7 517.9C749.9 513.3 750.9 511.5 751.9 507.1C752.9 502.7 753.7 497.3 754.7 491.5C755.7 485.7 756.8 476.9 757.8 472.3C758.9 467.7 760.1 466.1 761.2 463.9C762.3 461.7 763.4 461.5 764.3 459.1C765.2 456.8 765.9 452.6 766.7 449.6C767.5 446.6 768.3 443.0 769.1 441.2C769.9 439.4 770.5 438.8 771.5 438.8C772.5 438.7 773.9 440.6 775.1 440.7C776.3 440.8 777.5 440.0 778.7 439.2C779.9 438.5 781.3 435.9 782.3 436.4C783.3 436.9 783.7 440.0 784.7 442.4C785.7 444.8 786.9 448.6 788.3 450.8C789.7 453.0 791.7 453.4 793.1 455.6C794.5 457.8 795.5 461.5 796.7 463.9C797.9 466.3 799.1 467.9 800.3 469.9C801.5 471.9 802.7 474.1 803.9 475.9C805.1 477.7 806.3 479.7 807.5 480.7C808.7 481.7 810.1 481.9 811.1 481.9C812.1 481.9 812.5 480.5 813.5 480.7C814.5 480.9 816.0 483.3 817.1 483.1C818.2 482.9 818.7 481.0 820.0 479.5C821.3 478.0 823.2 475.9 824.8 474.3C826.4 472.7 828.2 472.5 829.6 469.9C831.0 467.4 831.8 461.9 833.2 459.1C834.6 456.4 836.6 455.0 838.0 453.2C839.4 451.4 840.6 450.4 841.6 448.4C842.6 446.4 843.0 443.0 844.0 441.2C845.0 439.4 846.2 438.3 847.6 437.6C849.0 436.9 851.0 437.5 852.4 436.9C853.8 436.2 854.8 433.7 856.0 433.5C857.2 433.3 858.4 434.2 859.6 435.9C860.8 437.6 862.0 440.9 863.2 443.6C864.4 446.2 865.6 449.0 866.8 452.0C868.0 455.0 869.3 458.5 870.3 461.5C871.3 464.5 871.9 466.1 872.7 469.9C873.6 473.7 874.6 480.1 875.6 484.3C876.6 488.5 877.7 491.1 878.7 495.1C879.8 499.1 880.9 503.3 881.9 508.3C882.9 513.3 883.8 519.7 884.7 525.1C885.7 530.5 886.6 536.1 887.6 540.7C888.6 545.3 889.8 548.9 890.7 552.7C891.6 556.4 892.2 559.2 893.1 563.4C894.0 567.6 895.2 573.6 896.2 577.8C897.2 582.0 898.0 585.6 899.1 588.6C900.2 591.6 901.5 593.4 902.7 595.8C903.9 598.2 905.3 601.0 906.3 603.0C907.3 605.0 908.0 606.8 908.7 608.0C909.4 609.3 910.0 610.0 910.6 610.4C911.3 610.9 911.9 611.1 912.5 610.9C913.2 610.8 913.8 610.0 914.5 609.5C915.1 609.0 915.8 608.4 916.6 608.0C917.5 607.6 918.5 607.5 919.5 607.1C920.5 606.6 921.6 607.1 922.6 605.4C923.6 603.7 924.4 600.6 925.5 597.0C926.6 593.4 927.9 587.8 929.1 583.8C930.3 579.8 931.6 576.6 932.7 573.0C933.8 569.4 934.8 565.5 935.6 562.2C936.4 559.0 937.2 554.8 937.5 553.4" stroke="#fb3459" stroke-width="1.9" fill="none" stroke-linejoin="round"/>
<g stroke="#22b04c" stroke-width="1.15" fill="none">
<rect x="715.2" y="610.8" width="2.7" height="2.7" fill="#8fd6a3" stroke-width="1.5"/>
<rect x="720.0" y="598.5" width="2.7" height="2.7" fill="#8fd6a3" stroke-width="1.5"/>
<rect x="724.7" y="598.1" width="2.7" height="2.7" fill="#8fd6a3" stroke-width="1.5"/>
<rect x="729.5" y="592.5" width="2.7" height="2.7" fill="#8fd6a3" stroke-width="1.5"/>
<rect x="734.2" y="572.9" width="2.7" height="2.7" fill="#8fd6a3" stroke-width="1.5"/>
<rect x="738.9" y="557.8" width="2.7" height="2.7" fill="#8fd6a3" stroke-width="1.5"/>
<path d="M745.0 534.1V536.6 M743.0 534.1H747.0 M743.0 536.6H747.0"/>
<rect x="743.7" y="534.0" width="2.7" height="2.7" fill="#8fd6a3" stroke-width="1.5"/>
<path d="M749.8 517.2V520.0 M747.8 517.2H751.8 M747.8 520.0H751.8"/>
<rect x="748.4" y="517.3" width="2.7" height="2.7" fill="#8fd6a3" stroke-width="1.5"/>
<path d="M754.5 498.5V501.8 M752.5 498.5H756.5 M752.5 501.8H756.5"/>
<rect x="753.2" y="498.8" width="2.7" height="2.7" fill="#8fd6a3" stroke-width="1.5"/>
<path d="M759.2 475.8V479.4 M757.2 475.8H761.2 M757.2 479.4H761.2"/>
<rect x="757.9" y="476.2" width="2.7" height="2.7" fill="#8fd6a3" stroke-width="1.5"/>
<path d="M764.0 460.7V464.7 M762.0 460.7H766.0 M762.0 464.7H766.0"/>
<rect x="762.6" y="461.4" width="2.7" height="2.7" fill="#8fd6a3" stroke-width="1.5"/>
<path d="M768.7 446.6V451.1 M766.7 446.6H770.7 M766.7 451.1H770.7"/>
<rect x="767.4" y="447.5" width="2.7" height="2.7" fill="#8fd6a3" stroke-width="1.5"/>
<path d="M773.5 442.6V447.4 M771.5 442.6H775.5 M771.5 447.4H775.5"/>
<rect x="772.1" y="443.7" width="2.7" height="2.7" fill="#8fd6a3" stroke-width="1.5"/>
<path d="M778.2 437.6V442.8 M776.2 437.6H780.2 M776.2 442.8H780.2"/>
<rect x="776.9" y="438.8" width="2.7" height="2.7" fill="#8fd6a3" stroke-width="1.5"/>
<path d="M782.9 432.8V438.5 M780.9 432.8H784.9 M780.9 438.5H784.9"/>
<rect x="781.6" y="434.3" width="2.7" height="2.7" fill="#8fd6a3" stroke-width="1.5"/>
<path d="M787.7 447.2V453.3 M785.7 447.2H789.7 M785.7 453.3H789.7"/>
<rect x="786.3" y="448.9" width="2.7" height="2.7" fill="#8fd6a3" stroke-width="1.5"/>
<path d="M792.4 450.6V457.1 M790.4 450.6H794.4 M790.4 457.1H794.4"/>
<rect x="791.1" y="452.5" width="2.7" height="2.7" fill="#8fd6a3" stroke-width="1.5"/>
<path d="M797.2 463.1V470.0 M795.2 463.1H799.2 M795.2 470.0H799.2"/>
<rect x="795.8" y="465.2" width="2.7" height="2.7" fill="#8fd6a3" stroke-width="1.5"/>
<path d="M801.9 469.9V477.2 M799.9 469.9H803.9 M799.9 477.2H803.9"/>
<rect x="800.5" y="472.2" width="2.7" height="2.7" fill="#8fd6a3" stroke-width="1.5"/>
<path d="M806.6 477.3V485.0 M804.6 477.3H808.6 M804.6 485.0H808.6"/>
<rect x="805.3" y="479.8" width="2.7" height="2.7" fill="#8fd6a3" stroke-width="1.5"/>
<path d="M811.4 481.0V489.1 M809.4 481.0H813.4 M809.4 489.1H813.4"/>
<rect x="810.0" y="483.7" width="2.7" height="2.7" fill="#8fd6a3" stroke-width="1.5"/>
<path d="M816.1 482.4V490.9 M814.1 482.4H818.1 M814.1 490.9H818.1"/>
<rect x="814.8" y="485.3" width="2.7" height="2.7" fill="#8fd6a3" stroke-width="1.5"/>
<path d="M820.8 477.0V485.9 M818.8 477.0H822.8 M818.8 485.9H822.8"/>
<rect x="819.5" y="480.1" width="2.7" height="2.7" fill="#8fd6a3" stroke-width="1.5"/>
<path d="M825.6 470.0V479.4 M823.6 470.0H827.6 M823.6 479.4H827.6"/>
<rect x="824.2" y="473.3" width="2.7" height="2.7" fill="#8fd6a3" stroke-width="1.5"/>
<path d="M830.3 463.9V473.6 M828.3 463.9H832.3 M828.3 473.6H832.3"/>
<rect x="829.0" y="467.4" width="2.7" height="2.7" fill="#8fd6a3" stroke-width="1.5"/>
<path d="M835.1 450.5V460.6 M833.1 450.5H837.1 M833.1 460.6H837.1"/>
<rect x="833.7" y="454.2" width="2.7" height="2.7" fill="#8fd6a3" stroke-width="1.5"/>
<path d="M839.8 447.9V458.4 M837.8 447.9H841.8 M837.8 458.4H841.8"/>
<rect x="838.5" y="451.8" width="2.7" height="2.7" fill="#8fd6a3" stroke-width="1.5"/>
<path d="M844.5 436.4V447.3 M842.5 436.4H846.5 M842.5 447.3H846.5"/>
<rect x="843.2" y="440.5" width="2.7" height="2.7" fill="#8fd6a3" stroke-width="1.5"/>
<path d="M849.3 432.4V443.7 M847.3 432.4H851.3 M847.3 443.7H851.3"/>
<rect x="847.9" y="436.7" width="2.7" height="2.7" fill="#8fd6a3" stroke-width="1.5"/>
<path d="M854.0 434.6V446.3 M852.0 434.6H856.0 M852.0 446.3H856.0"/>
<rect x="852.7" y="439.1" width="2.7" height="2.7" fill="#8fd6a3" stroke-width="1.5"/>
<path d="M858.8 434.4V446.5 M856.8 434.4H860.8 M856.8 446.5H860.8"/>
<rect x="857.4" y="439.1" width="2.7" height="2.7" fill="#8fd6a3" stroke-width="1.5"/>
<path d="M863.5 441.6V454.2 M861.5 441.6H865.5 M861.5 454.2H865.5"/>
<rect x="862.1" y="446.5" width="2.7" height="2.7" fill="#8fd6a3" stroke-width="1.5"/>
<path d="M868.2 447.9V460.8 M866.2 447.9H870.2 M866.2 460.8H870.2"/>
<rect x="866.9" y="453.0" width="2.7" height="2.7" fill="#8fd6a3" stroke-width="1.5"/>
<path d="M873.0 464.4V477.8 M871.0 464.4H875.0 M871.0 477.8H875.0"/>
<rect x="871.6" y="469.8" width="2.7" height="2.7" fill="#8fd6a3" stroke-width="1.5"/>
<path d="M877.7 479.4V493.1 M875.7 479.4H879.7 M875.7 493.1H879.7"/>
<rect x="876.4" y="484.9" width="2.7" height="2.7" fill="#8fd6a3" stroke-width="1.5"/>
<path d="M882.4 488.1V502.1 M880.4 488.1H884.4 M880.4 502.1H884.4"/>
<rect x="881.1" y="493.7" width="2.7" height="2.7" fill="#8fd6a3" stroke-width="1.5"/>
<path d="M887.2 511.4V525.3 M885.2 511.4H889.2 M885.2 525.3H889.2"/>
<rect x="885.8" y="517.0" width="2.7" height="2.7" fill="#8fd6a3" stroke-width="1.5"/>
<path d="M891.9 527.2V541.2 M889.9 527.2H893.9 M889.9 541.2H893.9"/>
<rect x="890.6" y="532.8" width="2.7" height="2.7" fill="#8fd6a3" stroke-width="1.5"/>
<path d="M896.7 541.6V555.5 M894.7 541.6H898.7 M894.7 555.5H898.7"/>
<rect x="895.3" y="547.2" width="2.7" height="2.7" fill="#8fd6a3" stroke-width="1.5"/>
<path d="M901.4 560.5V574.5 M899.4 560.5H903.4 M899.4 574.5H903.4"/>
<rect x="900.1" y="566.1" width="2.7" height="2.7" fill="#8fd6a3" stroke-width="1.5"/>
<path d="M906.1 560.5V574.5 M904.1 560.5H908.1 M904.1 574.5H908.1"/>
<rect x="904.8" y="566.1" width="2.7" height="2.7" fill="#8fd6a3" stroke-width="1.5"/>
<path d="M910.9 576.3V590.3 M908.9 576.3H912.9 M908.9 590.3H912.9"/>
<rect x="909.5" y="582.0" width="2.7" height="2.7" fill="#8fd6a3" stroke-width="1.5"/>
<path d="M915.6 579.7V593.7 M913.6 579.7H917.6 M913.6 593.7H917.6"/>
<rect x="914.3" y="585.4" width="2.7" height="2.7" fill="#8fd6a3" stroke-width="1.5"/>
<path d="M920.4 580.9V594.8 M918.4 580.9H922.4 M918.4 594.8H922.4"/>
<rect x="919.0" y="586.5" width="2.7" height="2.7" fill="#8fd6a3" stroke-width="1.5"/>
<path d="M925.1 568.4V582.4 M923.1 568.4H927.1 M923.1 582.4H927.1"/>
<rect x="923.7" y="574.1" width="2.7" height="2.7" fill="#8fd6a3" stroke-width="1.5"/>
<path d="M929.8 552.9V566.8 M927.8 552.9H931.8 M927.8 566.8H931.8"/>
<rect x="928.5" y="558.5" width="2.7" height="2.7" fill="#8fd6a3" stroke-width="1.5"/>
<path d="M934.6 545.7V559.6 M932.6 545.7H936.6 M932.6 559.6H936.6"/>
<rect x="933.2" y="551.3" width="2.7" height="2.7" fill="#8fd6a3" stroke-width="1.5"/>
</g>
<rect x="697.9" y="420.3" width="259.5" height="207.4" fill="none" stroke="#222" stroke-width="1.9"/>
<path d="M716.6 627.7v-4.1 M716.6 420.3v4.1 M779.8 627.7v-4.1 M779.8 420.3v4.1 M843.0 627.7v-4.1 M843.0 420.3v4.1 M906.1 627.7v-4.1 M906.1 420.3v4.1 M697.9 612.1h4.1 M957.4 612.1h-4.1 M697.9 561.5h4.1 M957.4 561.5h-4.1 M697.9 510.9h4.1 M957.4 510.9h-4.1 M697.9 460.3h4.1 M957.4 460.3h-4.1 " stroke="#222" stroke-width="1.5" fill="none"/>
<g fill="#262626" font-size="20">
<text x="690.6" y="619.3" text-anchor="end">0</text>
<text x="690.6" y="568.7" text-anchor="end">0.1</text>
<text x="690.6" y="518.1" text-anchor="end">0.2</text>
<text x="690.6" y="467.5" text-anchor="end">0.3</text>
<text x="716.6" y="653.2" text-anchor="middle">0</text>
<text x="779.8" y="653.2" text-anchor="middle">10</text>
<text x="843.0" y="653.2" text-anchor="middle">20</text>
<text x="906.1" y="653.2" text-anchor="middle">30</text>
</g>
<path d="M716.9 791.3C717.4 790.5 719.0 787.4 720.0 786.1C720.9 784.8 721.4 784.3 722.4 783.7C723.4 783.1 725.0 783.5 726.0 782.5C727.0 781.5 727.6 780.1 728.4 777.7C729.2 775.3 730.0 770.7 730.8 768.1C731.6 765.5 732.2 764.1 733.2 762.1C734.2 760.1 735.8 758.7 736.8 756.1C737.8 753.5 738.3 749.7 739.1 746.5C739.9 743.3 740.7 739.7 741.5 736.9C742.3 734.1 742.9 731.9 743.9 729.7C744.9 727.5 746.3 726.5 747.5 723.7C748.7 720.9 750.0 715.9 751.1 713.0C752.3 710.0 753.3 707.2 754.3 705.8C755.3 704.4 756.1 704.5 757.1 704.6C758.2 704.6 759.5 706.1 760.7 706.2C761.9 706.4 763.3 705.3 764.3 705.3C765.3 705.3 765.9 705.0 766.7 706.2C767.5 707.5 768.1 709.8 769.1 713.0C770.1 716.1 771.5 721.3 772.7 724.9C773.9 728.5 775.1 731.3 776.3 734.5C777.5 737.7 778.9 740.7 779.9 744.1C780.9 747.5 781.5 750.9 782.3 754.9C783.1 758.9 783.9 763.9 784.7 768.1C785.5 772.3 786.2 776.1 787.1 780.1C788.0 784.1 789.2 787.7 790.2 792.1C791.2 796.5 792.2 801.7 793.1 806.5C794.0 811.2 794.6 816.4 795.5 820.8C796.4 825.2 797.4 829.2 798.4 832.8C799.4 836.4 800.4 839.0 801.5 842.4C802.5 845.8 803.6 850.0 804.6 853.2C805.6 856.4 806.6 859.7 807.5 861.6C808.4 863.5 808.9 864.2 809.9 864.7C810.9 865.2 812.5 864.3 813.5 864.5C814.4 864.7 814.9 865.2 815.6 865.9C816.3 866.6 817.2 867.9 817.8 868.5C818.4 869.1 818.7 869.7 819.3 869.5C819.9 869.3 820.7 869.0 821.4 867.1C822.2 865.2 822.6 860.9 823.6 858.0C824.6 855.1 826.0 852.2 827.2 849.6C828.4 847.0 829.8 845.6 830.8 842.4C831.8 839.2 832.3 834.8 833.2 830.4C834.1 826.0 835.3 820.4 836.3 816.0C837.3 811.6 838.2 808.5 839.2 804.1C840.1 799.7 841.1 794.9 842.1 789.7C843.1 784.5 844.1 778.3 845.2 772.9C846.2 767.5 847.3 761.7 848.3 757.3C849.3 752.9 850.1 750.3 851.2 746.5C852.2 742.7 853.6 739.1 854.8 734.5C856.0 729.9 857.3 722.5 858.4 718.9C859.4 715.3 860.2 714.3 861.2 713.0C862.2 711.6 863.2 711.6 864.4 710.6C865.5 709.6 866.8 708.2 868.0 707.0C869.1 705.7 870.5 703.3 871.5 702.9C872.5 702.5 873.0 703.1 873.9 704.6C874.9 706.0 876.0 709.8 877.1 711.8C878.1 713.7 879.3 715.1 880.4 716.5C881.5 717.9 882.5 717.7 883.5 720.1C884.6 722.5 885.6 727.1 886.7 730.9C887.7 734.7 888.9 739.7 890.0 742.9C891.1 746.1 892.1 747.5 893.1 750.1C894.2 752.7 895.2 755.3 896.2 758.5C897.2 761.7 898.2 766.4 899.1 769.3C900.1 772.2 901.0 774.2 902.0 775.8C903.0 777.4 904.1 777.4 905.1 778.9C906.2 780.4 907.1 783.0 908.2 784.9C909.3 786.8 910.5 789.8 911.6 790.1C912.7 790.5 913.7 788.0 914.7 787.3C915.7 786.6 916.8 786.1 917.8 786.1C918.8 786.1 919.7 787.9 920.7 787.3C921.7 786.7 922.6 784.9 923.6 782.5C924.6 780.1 925.6 775.5 926.7 772.9C927.8 770.3 929.2 769.1 930.3 766.9C931.4 764.7 932.3 762.5 933.2 759.7C934.0 756.9 934.8 752.9 935.6 750.1C936.4 747.3 937.6 744.1 938.0 742.9" stroke="#fb3459" stroke-width="1.9" fill="none" stroke-linejoin="round"/>
<g stroke="#22b04c" stroke-width="1.15" fill="none">
<rect x="715.2" y="789.9" width="2.7" height="2.7" fill="#8fd6a3" stroke-width="1.5"/>
<path d="M721.3 785.3V787.8 M719.3 785.3H723.3 M719.3 787.8H723.3"/>
<rect x="720.0" y="785.2" width="2.7" height="2.7" fill="#8fd6a3" stroke-width="1.5"/>
<path d="M726.1 786.4V789.5 M724.1 786.4H728.1 M724.1 789.5H728.1"/>
<rect x="724.7" y="786.6" width="2.7" height="2.7" fill="#8fd6a3" stroke-width="1.5"/>
<path d="M730.8 764.1V767.7 M728.8 764.1H732.8 M728.8 767.7H732.8"/>
<rect x="729.5" y="764.5" width="2.7" height="2.7" fill="#8fd6a3" stroke-width="1.5"/>
<path d="M735.6 751.1V755.3 M733.6 751.1H737.6 M733.6 755.3H737.6"/>
<rect x="734.2" y="751.8" width="2.7" height="2.7" fill="#8fd6a3" stroke-width="1.5"/>
<path d="M740.3 736.9V741.6 M738.3 736.9H742.3 M738.3 741.6H742.3"/>
<rect x="738.9" y="737.9" width="2.7" height="2.7" fill="#8fd6a3" stroke-width="1.5"/>
<path d="M745.0 718.6V724.0 M743.0 718.6H747.0 M743.0 724.0H747.0"/>
<rect x="743.7" y="720.0" width="2.7" height="2.7" fill="#8fd6a3" stroke-width="1.5"/>
<path d="M749.8 711.6V717.6 M747.8 711.6H751.8 M747.8 717.6H751.8"/>
<rect x="748.4" y="713.2" width="2.7" height="2.7" fill="#8fd6a3" stroke-width="1.5"/>
<path d="M754.5 691.4V698.0 M752.5 691.4H756.5 M752.5 698.0H756.5"/>
<rect x="753.2" y="693.4" width="2.7" height="2.7" fill="#8fd6a3" stroke-width="1.5"/>
<path d="M759.2 690.6V697.7 M757.2 690.6H761.2 M757.2 697.7H761.2"/>
<rect x="757.9" y="692.8" width="2.7" height="2.7" fill="#8fd6a3" stroke-width="1.5"/>
<path d="M764.0 688.0V695.6 M762.0 688.0H766.0 M762.0 695.6H766.0"/>
<rect x="762.6" y="690.5" width="2.7" height="2.7" fill="#8fd6a3" stroke-width="1.5"/>
<path d="M768.7 691.3V699.5 M766.7 691.3H770.7 M766.7 699.5H770.7"/>
<rect x="767.4" y="694.0" width="2.7" height="2.7" fill="#8fd6a3" stroke-width="1.5"/>
<path d="M773.5 701.8V710.6 M771.5 701.8H775.5 M771.5 710.6H775.5"/>
<rect x="772.1" y="704.9" width="2.7" height="2.7" fill="#8fd6a3" stroke-width="1.5"/>
<path d="M778.2 712.8V722.2 M776.2 712.8H780.2 M776.2 722.2H780.2"/>
<rect x="776.9" y="716.1" width="2.7" height="2.7" fill="#8fd6a3" stroke-width="1.5"/>
<path d="M782.9 735.5V745.4 M780.9 735.5H784.9 M780.9 745.4H784.9"/>
<rect x="781.6" y="739.1" width="2.7" height="2.7" fill="#8fd6a3" stroke-width="1.5"/>
<path d="M787.7 762.7V773.3 M785.7 762.7H789.7 M785.7 773.3H789.7"/>
<rect x="786.3" y="766.7" width="2.7" height="2.7" fill="#8fd6a3" stroke-width="1.5"/>
<path d="M792.4 780.4V791.6 M790.4 780.4H794.4 M790.4 791.6H794.4"/>
<rect x="791.1" y="784.7" width="2.7" height="2.7" fill="#8fd6a3" stroke-width="1.5"/>
<path d="M797.2 797.4V809.1 M795.2 797.4H799.2 M795.2 809.1H799.2"/>
<rect x="795.8" y="801.9" width="2.7" height="2.7" fill="#8fd6a3" stroke-width="1.5"/>
<path d="M801.9 809.1V821.4 M799.9 809.1H803.9 M799.9 821.4H803.9"/>
<rect x="800.5" y="813.9" width="2.7" height="2.7" fill="#8fd6a3" stroke-width="1.5"/>
<path d="M806.6 819.8V832.7 M804.6 819.8H808.6 M804.6 832.7H808.6"/>
<rect x="805.3" y="824.9" width="2.7" height="2.7" fill="#8fd6a3" stroke-width="1.5"/>
<path d="M811.4 829.6V843.1 M809.4 829.6H813.4 M809.4 843.1H813.4"/>
<rect x="810.0" y="835.0" width="2.7" height="2.7" fill="#8fd6a3" stroke-width="1.5"/>
<path d="M816.1 834.1V848.2 M814.1 834.1H818.1 M814.1 848.2H818.1"/>
<rect x="814.8" y="839.8" width="2.7" height="2.7" fill="#8fd6a3" stroke-width="1.5"/>
<path d="M820.8 831.7V846.3 M818.8 831.7H822.8 M818.8 846.3H822.8"/>
<rect x="819.5" y="837.7" width="2.7" height="2.7" fill="#8fd6a3" stroke-width="1.5"/>
<path d="M825.6 830.0V845.2 M823.6 830.0H827.6 M823.6 845.2H827.6"/>
<rect x="824.2" y="836.2" width="2.7" height="2.7" fill="#8fd6a3" stroke-width="1.5"/>
<path d="M830.3 822.5V838.3 M828.3 822.5H832.3 M828.3 838.3H832.3"/>
<rect x="829.0" y="829.0" width="2.7" height="2.7" fill="#8fd6a3" stroke-width="1.5"/>
<path d="M835.1 805.0V821.3 M833.1 805.0H837.1 M833.1 821.3H837.1"/>
<rect x="833.7" y="811.8" width="2.7" height="2.7" fill="#8fd6a3" stroke-width="1.5"/>
<path d="M839.8 785.2V802.2 M837.8 785.2H841.8 M837.8 802.2H841.8"/>
<rect x="838.5" y="792.3" width="2.7" height="2.7" fill="#8fd6a3" stroke-width="1.5"/>
<path d="M844.5 758.6V776.1 M842.5 758.6H846.5 M842.5 776.1H846.5"/>
<rect x="843.2" y="766.0" width="2.7" height="2.7" fill="#8fd6a3" stroke-width="1.5"/>
<path d="M849.3 731.4V749.5 M847.3 731.4H851.3 M847.3 749.5H851.3"/>
<rect x="847.9" y="739.1" width="2.7" height="2.7" fill="#8fd6a3" stroke-width="1.5"/>
<path d="M854.0 722.7V741.4 M852.0 722.7H856.0 M852.0 741.4H856.0"/>
<rect x="852.7" y="730.7" width="2.7" height="2.7" fill="#8fd6a3" stroke-width="1.5"/>
<path d="M858.8 707.6V726.9 M856.8 707.6H860.8 M856.8 726.9H860.8"/>
<rect x="857.4" y="715.9" width="2.7" height="2.7" fill="#8fd6a3" stroke-width="1.5"/>
<path d="M863.5 692.7V712.5 M861.5 692.7H865.5 M861.5 712.5H865.5"/>
<rect x="862.1" y="701.2" width="2.7" height="2.7" fill="#8fd6a3" stroke-width="1.5"/>
<path d="M868.2 690.7V711.1 M866.2 690.7H870.2 M866.2 711.1H870.2"/>
<rect x="866.9" y="699.6" width="2.7" height="2.7" fill="#8fd6a3" stroke-width="1.5"/>
<path d="M873.0 685.1V706.1 M871.0 685.1H875.0 M871.0 706.1H875.0"/>
<rect x="871.6" y="694.3" width="2.7" height="2.7" fill="#8fd6a3" stroke-width="1.5"/>
<path d="M877.7 690.1V711.7 M875.7 690.1H879.7 M875.7 711.7H879.7"/>
<rect x="876.4" y="699.6" width="2.7" height="2.7" fill="#8fd6a3" stroke-width="1.5"/>
<path d="M882.4 698.2V720.4 M880.4 698.2H884.4 M880.4 720.4H884.4"/>
<rect x="881.1" y="708.0" width="2.7" height="2.7" fill="#8fd6a3" stroke-width="1.5"/>
<path d="M887.2 703.5V726.2 M885.2 703.5H889.2 M885.2 726.2H889.2"/>
<rect x="885.8" y="713.5" width="2.7" height="2.7" fill="#8fd6a3" stroke-width="1.5"/>
<path d="M891.9 721.1V744.4 M889.9 721.1H893.9 M889.9 744.4H893.9"/>
<rect x="890.6" y="731.4" width="2.7" height="2.7" fill="#8fd6a3" stroke-width="1.5"/>
<path d="M896.7 723.0V746.9 M894.7 723.0H898.7 M894.7 746.9H898.7"/>
<rect x="895.3" y="733.6" width="2.7" height="2.7" fill="#8fd6a3" stroke-width="1.5"/>
<path d="M901.4 746.2V770.7 M899.4 746.2H903.4 M899.4 770.7H903.4"/>
<rect x="900.1" y="757.1" width="2.7" height="2.7" fill="#8fd6a3" stroke-width="1.5"/>
<path d="M906.1 740.6V765.7 M904.1 740.6H908.1 M904.1 765.7H908.1"/>
<rect x="904.8" y="751.8" width="2.7" height="2.7" fill="#8fd6a3" stroke-width="1.5"/>
<path d="M910.9 740.9V766.5 M908.9 740.9H912.9 M908.9 766.5H912.9"/>
<rect x="909.5" y="752.3" width="2.7" height="2.7" fill="#8fd6a3" stroke-width="1.5"/>
<path d="M915.6 744.2V770.4 M913.6 744.2H917.6 M913.6 770.4H917.6"/>
<rect x="914.3" y="755.9" width="2.7" height="2.7" fill="#8fd6a3" stroke-width="1.5"/>
<path d="M920.4 734.3V761.1 M918.4 734.3H922.4 M918.4 761.1H922.4"/>
<rect x="919.0" y="746.3" width="2.7" height="2.7" fill="#8fd6a3" stroke-width="1.5"/>
<path d="M925.1 726.3V753.7 M923.1 726.3H927.1 M923.1 753.7H927.1"/>
<rect x="923.7" y="738.7" width="2.7" height="2.7" fill="#8fd6a3" stroke-width="1.5"/>
<path d="M929.8 728.9V756.8 M927.8 728.9H931.8 M927.8 756.8H931.8"/>
<rect x="928.5" y="741.5" width="2.7" height="2.7" fill="#8fd6a3" stroke-width="1.5"/>
<path d="M934.6 717.8V746.3 M932.6 717.8H936.6 M932.6 746.3H936.6"/>
<rect x="933.2" y="730.7" width="2.7" height="2.7" fill="#8fd6a3" stroke-width="1.5"/>
</g>
<rect x="697.9" y="672.9" width="259.5" height="206.7" fill="none" stroke="#222" stroke-width="1.9"/>
<path d="M716.6 879.6v-4.1 M716.6 672.9v4.1 M779.8 879.6v-4.1 M779.8 672.9v4.1 M843.0 879.6v-4.1 M843.0 672.9v4.1 M906.1 879.6v-4.1 M906.1 672.9v4.1 M697.9 854.2h4.1 M957.4 854.2h-4.1 M697.9 791.3h4.1 M957.4 791.3h-4.1 M697.9 728.4h4.1 M957.4 728.4h-4.1 " stroke="#222" stroke-width="1.5" fill="none"/>
<g fill="#262626" font-size="20">
<text x="690.6" y="861.4" text-anchor="end">-0.1</text>
<text x="690.6" y="798.5" text-anchor="end">0</text>
<text x="690.6" y="735.6" text-anchor="end">0.1</text>
<text x="716.6" y="905.9" text-anchor="middle">0</text>
<text x="779.8" y="905.9" text-anchor="middle">10</text>
<text x="843.0" y="905.9" text-anchor="middle">20</text>
<text x="906.1" y="905.9" text-anchor="middle">30</text>
</g>
<text x="836.3" y="939" font-size="25.5" text-anchor="middle" fill="#262626">Time(ms)</text>
<text transform="translate(650.4,523.3) rotate(-90)" font-size="28.5" font-weight="bold" text-anchor="middle" fill="#111">&lt;y&gt;</text>
<text transform="translate(650.4,787) rotate(-90)" font-size="28.5" font-weight="bold" text-anchor="middle" fill="#111">&lt;z&gt;</text>
<!-- labels -->
<g font-size="38.3" font-weight="bold" fill="#000">
<text transform="translate(24.1,44.5) scale(0.97,1)" x="-2">a</text>
<text transform="translate(413.1,44.6) scale(0.97,1)" x="-2">b</text>
<text transform="translate(390.3,253.0) scale(0.97,1)" x="-2">c</text>
<text transform="translate(645.6,44.6) scale(0.97,1)" x="-2">d</text>
<text transform="translate(645.6,231.6) scale(0.97,1)" x="-2">e</text>
<text transform="translate(24.5,436.2) scale(0.97,1)" x="-2">f</text>
<text transform="translate(626.3,425.9) scale(0.97,1)" x="-2">g</text>
<text transform="translate(627.0,697.0) scale(0.97,1)" x="-2">h</text>
</g>
</svg>
</body></html>
